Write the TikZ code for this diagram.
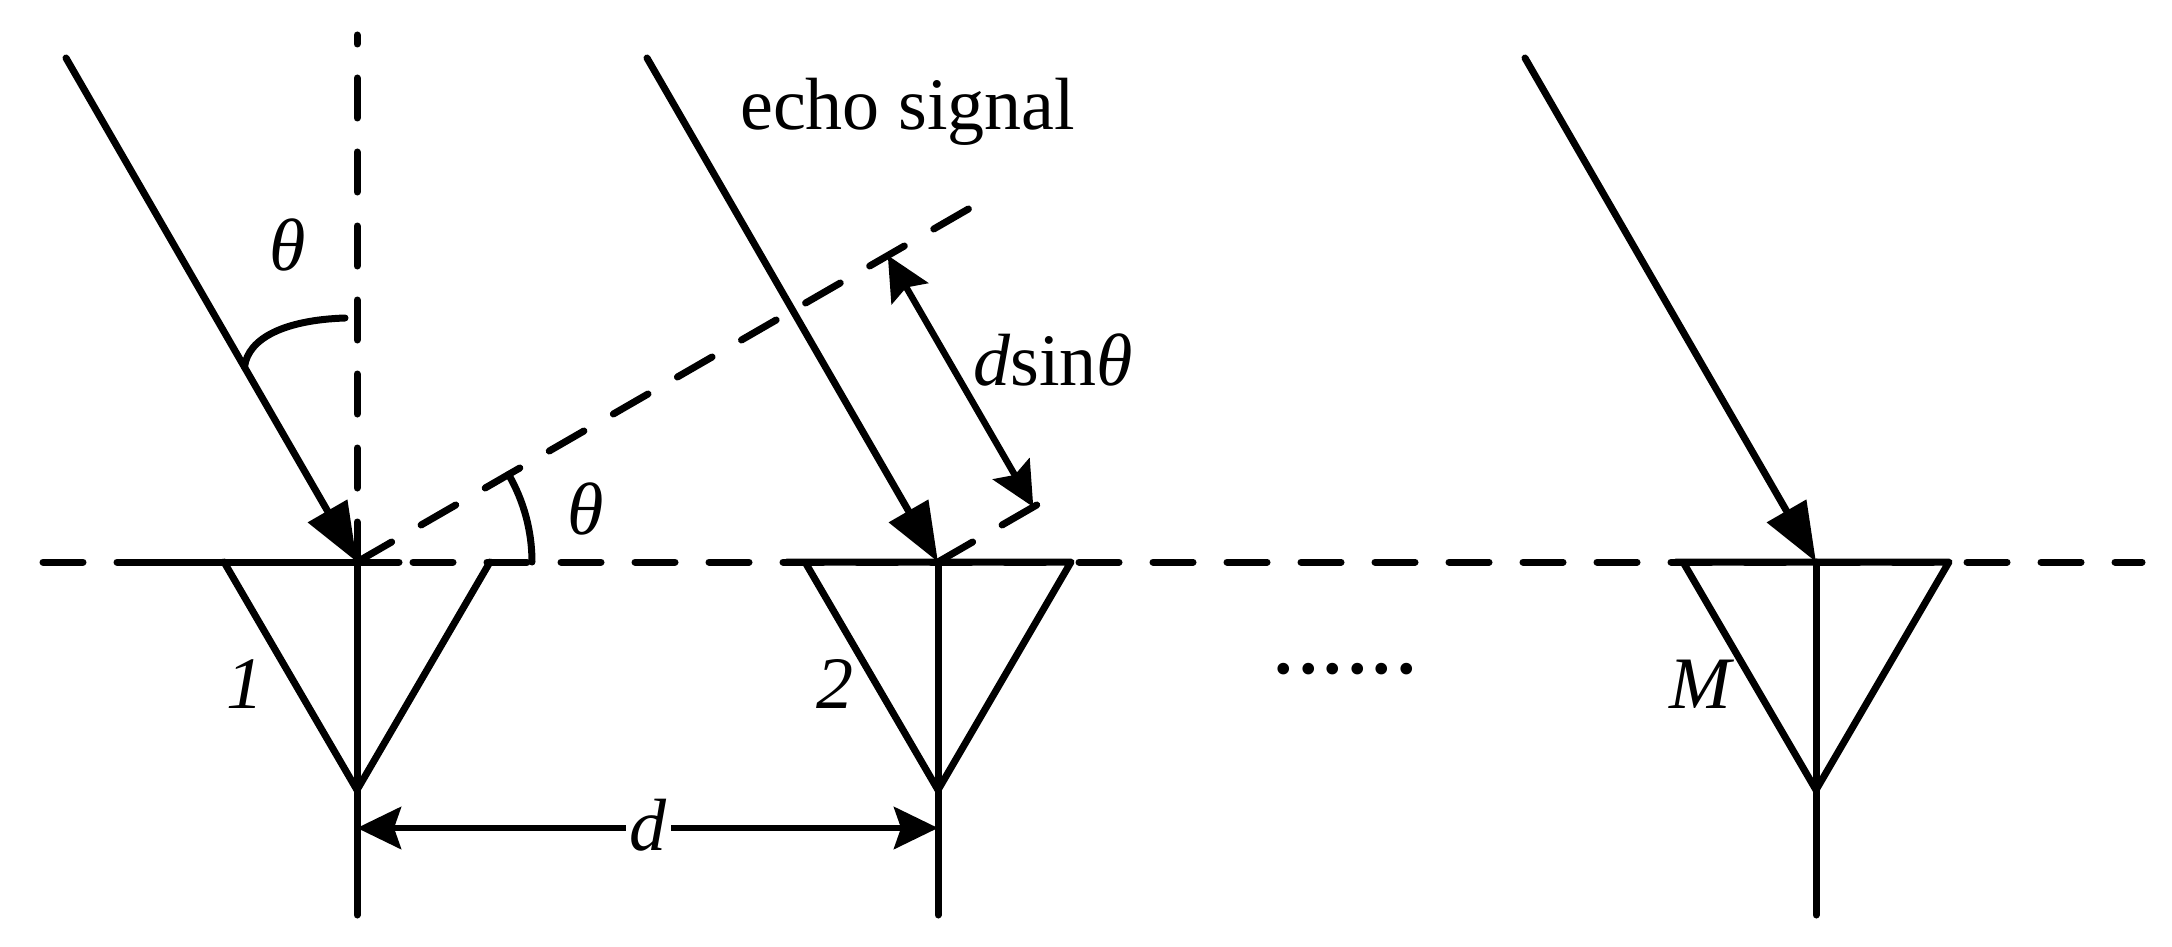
\documentclass[tikz,border=0pt]{standalone}
\usepackage{fontspec}
\setmainfont{Liberation Serif}
\usetikzlibrary{arrows.meta}
\begin{document}
\begin{tikzpicture}[x=1pt,y=-1pt,
  lw/.style={line width=7pt},
  dsh/.style={lw, line cap=round, dash pattern=on 40pt off 34pt},
  solidln/.style={lw, line cap=round, line join=round},
  ray/.style={lw, line cap=round, -{Triangle[length=59pt,width=44pt]}},
  dimarr/.style={line width=6.5pt, {Stealth[length=44pt,width=42pt,inset=7pt]}-{Stealth[length=44pt,width=42pt,inset=7pt]}},
  lab/.style={font=\fontsize{74}{80}\selectfont, inner sep=0pt},
]
\useasboundingbox (0,0) rectangle (2172,947);
% antenna feed points
\coordinate (A1) at (357,562);
\coordinate (A2) at (938,562);
\coordinate (AM) at (1816,562);
% ray starts
\coordinate (T1) at (66,58);
\coordinate (T2) at (647,58);
\coordinate (TM) at (1525,58);
% dashed reference lines
\coordinate (HL) at (43,562);
\coordinate (HR) at (2142,562);
\coordinate (VT) at (357,35);
\coordinate (WE) at (973.6,206);
\coordinate (SE) at (1041.9,502);
\draw[dsh] (HL) -- (HR);
\draw[dsh] (A1) -- (VT);
\draw[dsh] (A1) -- (WE);
\draw[dsh] (A2) -- (SE);
% antenna 1
\coordinate (L1) at (224,562); \coordinate (R1) at (490,562);
\coordinate (B1) at (357,790); \coordinate (E1) at (357,915);
\coordinate (S1a) at (121,562); \coordinate (S1b) at (399,562);
\draw[solidln] (S1a) -- (S1b);
\draw[solidln] (L1) -- (B1) -- (R1);
\draw[solidln] (A1) -- (E1);
% antenna 2
\coordinate (L2) at (805,562); \coordinate (R2) at (1071,562);
\coordinate (B2) at (938,790); \coordinate (E2) at (938,915);
\coordinate (S2) at (787,562);
\draw[solidln] (S2) -- (R2) -- (B2) -- (L2);
\draw[solidln] (A2) -- (E2);
% antenna M
\coordinate (LM) at (1683,562); \coordinate (RM) at (1949,562);
\coordinate (BM) at (1816,790); \coordinate (EM) at (1816,915);
\coordinate (SM) at (1676,562);
\draw[solidln] (SM) -- (RM) -- (BM) -- (LM);
\draw[solidln] (AM) -- (EM);
% incoming rays
\draw[ray] (T1) -- (A1);
\draw[ray] (T2) -- (A2);
\draw[ray] (TM) -- (AM);
% angle arcs
\coordinate (U1) at (244.5,367);
\coordinate (U2) at (345,318);
\draw[solidln] (U1) .. controls (248,338) and (285,320) .. (U2);
\coordinate (W0) at (532,562);
\draw[solidln] (W0) arc[start angle=0,end angle=-30,radius=175];
% d sin theta dimension
\coordinate (P) at (1033.3,507);
\coordinate (Q) at (887.8,255.4);
\draw[dimarr] (P) -- (Q);
% d dimension
\coordinate (D1) at (357,828);
\coordinate (D2) at (938,828);
\draw[dimarr] (D1) -- (D2);
% labels
\node[lab, anchor=center] (th1) at (288,245) {\itshape θ};
\node[lab, anchor=center] (th2) at (586,509) {\itshape θ};
\node[lab, anchor=base west] (echo) at (740,130) {echo signal};
\node[lab, anchor=base west] (dsin) at (973,385) {\textit{d}sin\textit{θ}};
\node[lab, anchor=base] (n1) at (245,708) {\itshape 1};
\node[lab, anchor=base] (n2) at (835,708) {\itshape 2};
\node[lab, anchor=base] (nM) at (1700,708) {\itshape M};
\node[lab, anchor=base, fill=white, inner xsep=4pt] (dl) at (648,850) {\itshape d};
\node[font=\fontsize{98}{100}\selectfont, inner sep=0pt, anchor=base] (dots) at (1345,673) {......};
\end{tikzpicture}
\end{document}
